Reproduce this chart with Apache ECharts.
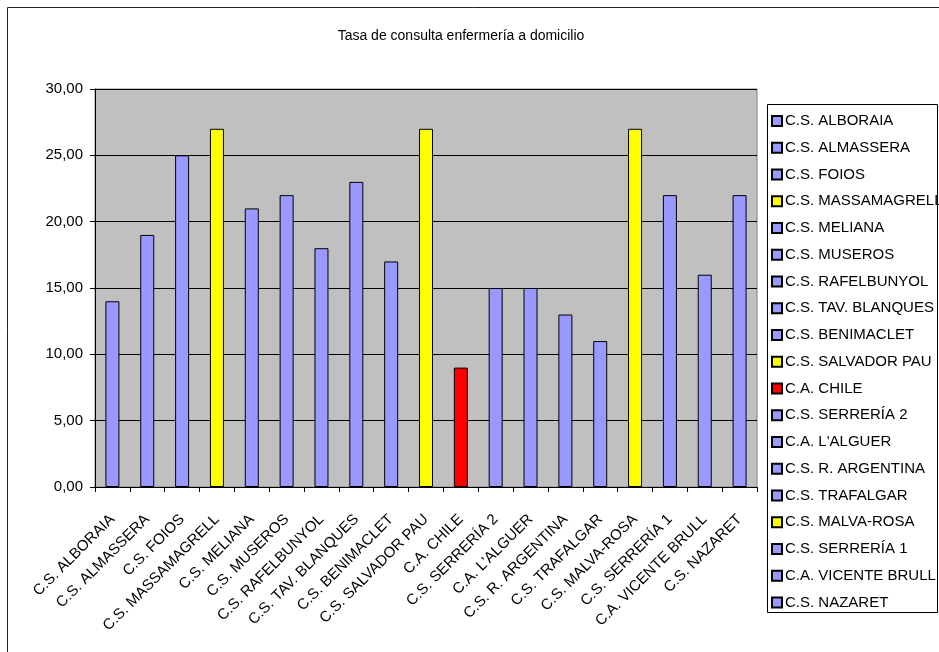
<!DOCTYPE html>
<html>
<head>
<meta charset="utf-8">
<script src="https://cdn.jsdelivr.net/npm/echarts@6/dist/echarts.min.js"></script>
<style>
html,body{margin:0;padding:0;background:#fff;}
#chart{width:939px;height:652px;}
</style>
</head>
<body>
<div id="chart"></div>
<script>
var titleText = 'Tasa de consulta enfermería a domicilio';
var categories = ['C.S. ALBORAIA','C.S. ALMASSERA','C.S. FOIOS','C.S. MASSAMAGRELL','C.S. MELIANA','C.S. MUSEROS','C.S. RAFELBUNYOL','C.S. TAV. BLANQUES','C.S. BENIMACLET','C.S. SALVADOR PAU','C.A. CHILE','C.S. SERRERÍA 2','C.A. L\'ALGUER','C.S. R. ARGENTINA','C.S. TRAFALGAR','C.S. MALVA-ROSA','C.S. SERRERÍA 1','C.A. VICENTE BRULL','C.S. NAZARET'];
var values = [14, 19, 25, 27, 21, 22, 18, 23, 17, 27, 9, 15, 15, 13, 11, 27, 22, 16, 22];
var barColors = ['#9999FF','#9999FF','#9999FF','#FFFF00','#9999FF','#9999FF','#9999FF','#9999FF','#9999FF','#FFFF00','#FF0000','#9999FF','#9999FF','#9999FF','#9999FF','#FFFF00','#9999FF','#9999FF','#9999FF'];
var yTicks = {min: 0, max: 30, interval: 5};

var FONT = '"Liberation Sans", Arial, sans-serif';

var series = categories.map(function (name, i) {
  var d = categories.map(function (_, j) { return j === i ? values[i] : '-'; });
  return {
    name: name,
    type: 'bar',
    data: d,
    barWidth: 14,
    barGap: '-100%',
    itemStyle: { color: barColors[i], borderColor: '#000', borderWidth: 1 },
    emphasis: { disabled: true },
    animation: false
  };
});

var chart = echarts.init(document.getElementById('chart'), null, { renderer: 'canvas' });
chart.setOption({
  backgroundColor: '#fff',
  animation: false,
  textStyle: { fontFamily: FONT },
  title: {
    text: titleText,
    left: 461,
    top: 29,
    textAlign: 'center',
    padding: 0,
    textStyle: { fontFamily: FONT, fontSize: 14, fontWeight: 'normal', color: '#000' }
  },
  graphic: [
    { type: 'polyline', shape: { points: [[7.5, 652], [7.5, 7.5], [939, 7.5]] }, style: { stroke: '#222', lineWidth: 1, fill: null }, z: 10 },
    { type: 'rect', shape: { x: 767.5, y: 104.5, width: 170, height: 508 }, style: { stroke: '#000', lineWidth: 1, fill: '#fff' }, z: 0 }
  ],
  legend: {
    orient: 'vertical',
    left: 771,
    top: 113,
    padding: 0,
    itemWidth: 10,
    itemHeight: 10,
    itemGap: 10.75,
    icon: 'rect',
    selectedMode: false,
    textStyle: { fontFamily: FONT, fontSize: 15, color: '#000', lineHeight: 16, padding: [0, 0, 0, -2] },
    data: categories,
    z: 5
  },
  grid: {
    left: 95, top: 89, right: 182, bottom: 165,
    show: true,
    backgroundColor: '#C0C0C0',
    borderColor: '#808080',
    borderWidth: 1
  },
  xAxis: {
    type: 'category',
    data: categories,
    boundaryGap: true,
    axisLine: { show: true, lineStyle: { color: '#000', width: 1 } },
    axisTick: { show: true, length: 5, lineStyle: { color: '#000' }, alignWithLabel: false },
    axisLabel: { interval: 0, rotate: 45, margin: 30, fontFamily: FONT, fontSize: 15, color: '#000' },
    splitLine: { show: false }
  },
  yAxis: {
    type: 'value',
    min: yTicks.min, max: yTicks.max, interval: yTicks.interval,
    axisLine: { show: true, lineStyle: { color: '#000', width: 1 } },
    axisTick: { show: true, length: 5, lineStyle: { color: '#000' } },
    axisLabel: {
      margin: 12, fontFamily: FONT, fontSize: 15, color: '#000',
      formatter: function (v) { return v.toFixed(2).replace('.', ','); }
    },
    splitLine: { show: true, lineStyle: { color: '#000', width: 1 } }
  },
  series: series
});
</script>
</body>
</html>
